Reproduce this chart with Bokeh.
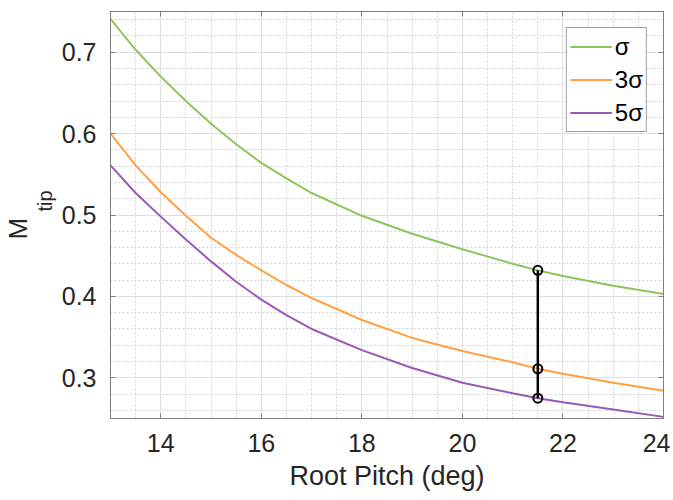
from bokeh.plotting import figure
from bokeh.models import (Range1d, SingleIntervalTicker, LinearAxis, Title,
                          Legend, LegendItem, CustomJSTickFormatter)
from bokeh.embed import file_html
from bokeh.resources import INLINE

# ---- data ----
pitch = [13, 13.5, 14, 14.5, 15, 15.5, 16, 16.5, 17, 18, 19, 20, 21, 21.5, 22, 23, 24]
m_sigma = [0.741, 0.703, 0.670, 0.640, 0.612, 0.587, 0.564, 0.545, 0.527, 0.499, 0.477,
           0.458, 0.440, 0.432, 0.425, 0.413, 0.403]
m_3sigma = [0.600, 0.561, 0.528, 0.499, 0.472, 0.451, 0.432, 0.414, 0.398, 0.371, 0.349,
            0.333, 0.319, 0.311, 0.305, 0.294, 0.284]
m_5sigma = [0.561, 0.527, 0.498, 0.470, 0.443, 0.418, 0.396, 0.377, 0.360, 0.334, 0.312,
            0.294, 0.281, 0.275, 0.270, 0.261, 0.252]
series_labels = ["\u03c3", "3\u03c3", "5\u03c3"]
marker_x = [21.5, 21.5, 21.5]
marker_y = [0.432, 0.311, 0.275]

colors = ["#8fc35c", "#ffa045", "#9b59b6"]
FONT = "Liberation Sans"
AX = "#7f7f7f"
TXT = "#262626"

p = figure(width=665, height=492, frame_width=553, frame_height=407,
           x_range=Range1d(13, 24), y_range=Range1d(0.25, 0.75),
           output_backend="svg", toolbar_location=None,
           min_border_left=105, min_border_right=7, min_border_top=11,
           min_border_bottom=74, x_axis_label="Root Pitch (deg)")
p.background_fill_color = "white"
p.border_fill_color = "white"
p.outline_line_color = AX
p.outline_line_width = 1

xt = SingleIntervalTicker(interval=2, num_minor_ticks=4)
yt = SingleIntervalTicker(interval=0.1, num_minor_ticks=5)
p.xaxis.ticker = xt
p.yaxis.ticker = yt

def style_axis(ax):
    ax.axis_line_color = AX
    ax.major_tick_line_color = AX
    ax.major_tick_in = 5
    ax.major_tick_out = 0
    ax.minor_tick_line_color = None
    ax.major_label_text_font = FONT
    ax.major_label_text_font_size = "25px"
    ax.major_label_text_color = TXT
    ax.axis_label_text_font = FONT
    ax.axis_label_text_font_size = "27px"
    ax.axis_label_text_font_style = "normal"
    ax.axis_label_text_color = TXT

for ax in p.xaxis:
    style_axis(ax)
    ax.major_label_standoff = 11
    ax.axis_label_standoff = 6
for ax in p.yaxis:
    style_axis(ax)
    ax.major_label_standoff = 10

blank = CustomJSTickFormatter(code="return ''")
top = LinearAxis(ticker=xt, formatter=blank)
right = LinearAxis(ticker=yt, formatter=blank)
for ax in (top, right):
    style_axis(ax)
    ax.major_label_standoff = 0
    ax.major_label_text_font_size = "1px"
p.add_layout(top, "above")
p.add_layout(right, "right")

for g in (p.xgrid, p.ygrid):
    g.grid_line_color = "#dfdfdf"
    g.grid_line_width = 1
    g.minor_grid_line_color = "#d2d2d2"
    g.minor_grid_line_dash = "2 2"
    g.minor_grid_line_width = 1

renderers = []
for ys, c in zip([m_sigma, m_3sigma, m_5sigma], colors):
    r = p.line(pitch, ys, line_color=c, line_width=2)
    renderers.append(r)

p.line(marker_x, marker_y, line_color="black", line_width=2.5)
p.scatter(marker_x, marker_y, marker="circle", size=9, fill_color=None,
          line_color="black", line_width=2)

legend = Legend(items=[LegendItem(label=l, renderers=[r]) for l, r in zip(series_labels, renderers)],
                location="top_right")
legend.margin = 16
legend.padding = 3
legend.spacing = 2
legend.glyph_width = 42
legend.glyph_height = 31
legend.label_height = 31
legend.label_standoff = 3
legend.label_text_font = FONT
legend.label_text_font_size = "24px"
legend.label_text_color = "black"
legend.border_line_color = "#404040"
legend.border_line_width = 1
legend.background_fill_color = "white"
legend.background_fill_alpha = 1
p.add_layout(legend, "center")

# y-axis label "M" with subscript "tip", as two titles on the left side
sub = Title(text="tip", align="left", offset=207, vertical_align="top", standoff=2,
            text_font=FONT, text_font_size="20px", text_font_style="normal",
            text_color=TXT)
main = Title(text="M", align="left", offset=179, vertical_align="bottom", standoff=0,
             text_font=FONT, text_font_size="26px", text_font_style="normal",
             text_color=TXT)
p.add_layout(sub, "left")
p.add_layout(main, "left")

open("out.html", "w").write(file_html(p, INLINE))
